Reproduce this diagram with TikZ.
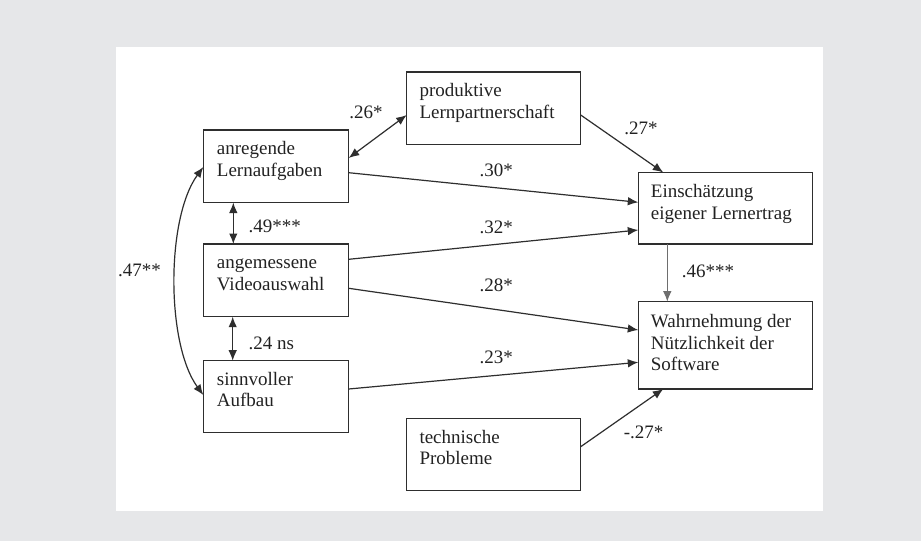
\documentclass[tikz,border=0pt]{standalone}
\usepackage{fontspec}
\setmainfont{Liberation Serif}
\usetikzlibrary{arrows.meta,calc}
\definecolor{bggray}{HTML}{E6E7E9}
\definecolor{ink}{HTML}{222222}
\definecolor{linegray}{HTML}{2E2E2E}
\definecolor{lightline}{HTML}{6E6E6E}
\begin{document}
\begin{tikzpicture}[x=1pt,y=-1pt,
  box/.style={draw=linegray, line width=1.2pt, fill=white, inner sep=0pt, outer sep=0pt, anchor=north west},
  boxtext/.style={anchor=north west, inner sep=0pt, align=left, text=ink, font=\fontsize{19}{21.7}\selectfont},
  lbl/.style={inner sep=0pt, text=ink, font=\fontsize{19}{21.7}\selectfont},
  conn/.style={draw=linegray, line width=1.2pt, -{Latex[length=10.5pt,width=8.5pt]}},
  biconn/.style={draw=linegray, line width=1.2pt, {Latex[length=10.5pt,width=8.5pt]}-{Latex[length=10.5pt,width=8.5pt]}}
]
\useasboundingbox (0,0) rectangle (921,541);
\fill[bggray] (0,0) rectangle (921,541);
\fill[white] (116,47) rectangle (823,511);

% boxes
\node[box, minimum width=174pt, minimum height=72.3pt] (prod) at (406.7,72) {};
\node[box, minimum width=145.4pt, minimum height=72.5pt] (anr) at (203.3,130) {};
\node[box, minimum width=145.4pt, minimum height=72.7pt] (ang) at (203.3,244) {};
\node[box, minimum width=145.4pt, minimum height=72pt] (sinn) at (203.3,360.7) {};
\node[box, minimum width=174.2pt, minimum height=71.5pt] (ein) at (638.3,172.5) {};
\node[box, minimum width=174.2pt, minimum height=87.3pt] (wahr) at (638.3,301.7) {};
\node[box, minimum width=174pt, minimum height=72.2pt] (tech) at (406.7,418.5) {};

% box texts
\node[boxtext] (prodt) at ($(prod.north west)+(12.6,9.2)$) {\strut produktive\\Lernpartnerschaft};
\node[boxtext] (anrt) at ($(anr.north west)+(13.4,9.2)$) {\strut anregende\\Lernaufgaben};
\node[boxtext] (angt) at ($(ang.north west)+(13.4,9.2)$) {\strut angemessene\\Videoauswahl};
\node[boxtext] (sinnt) at ($(sinn.north west)+(13.4,9.2)$) {\strut sinnvoller\\Aufbau};
\node[boxtext] (eint) at ($(ein.north west)+(12.4,9.8)$) {\strut Einschätzung\\eigener Lernertrag};
\node[boxtext] (wahrt) at ($(wahr.north west)+(12.4,10.4)$) {\strut Wahrnehmung der\\Nützlichkeit der\\Software};
\node[boxtext] (techt) at ($(tech.north west)+(12.6,9.2)$) {\strut technische\\Probleme};

% connectors
\draw[biconn] ($(anr.north east)+(0,28)$) -- ($(prod.north west)+(0,43)$);
\draw[conn] ($(prod.north east)+(0,43)$) -- ($(ein.north west)+(25,0)$);
\draw[conn] ($(anr.north east)+(0,42.7)$) -- ($(ein.north west)+(0,29.8)$);
\draw[conn] ($(ang.north east)+(0,15.3)$) -- ($(ein.north west)+(0,57.5)$);
\draw[conn] ($(ang.north east)+(0,44.3)$) -- ($(wahr.north west)+(0,28.3)$);
\draw[conn] ($(sinn.north east)+(0,28.3)$) -- ($(wahr.north west)+(0,60.6)$);
\draw[conn, draw=lightline] ($(ein.south west)+(29,0)$) -- ($(wahr.north west)+(29,0)$);
\draw[conn] ($(tech.north east)+(0,28.2)$) -- ($(wahr.south west)+(25,0)$);
\draw[biconn] ($(anr.south west)+(30,0)$) -- ($(ang.north west)+(30,0)$);
\draw[biconn] ($(ang.south west)+(29.4,0)$) -- ($(sinn.north west)+(29.4,0)$);
\draw[biconn] ($(anr.north west)+(0,37)$) .. controls (166,218) and (166,344) .. ($(sinn.north west)+(0,34.3)$);

% labels
\node[lbl] (l26) at (366,112) {.26*};
\node[lbl] (l27) at (641,128.3) {.27*};
\node[lbl] (l30) at (496.3,170.7) {.30*};
\node[lbl] (l32) at (496.3,227.3) {.32*};
\node[lbl] (l28) at (496.3,285.8) {.28*};
\node[lbl] (l23) at (496.3,357.3) {.23*};
\node[lbl, anchor=west] (l49) at (248.3,226.7) {.49***};
\node[lbl, anchor=west] (l24) at (248.3,343.7) {.24 ns};
\node[lbl, anchor=west] (l46) at (681.7,271.7) {.46***};
\node[lbl] (lm27) at (643.7,432.3) {-.27*};
\node[lbl, anchor=west] (l47) at (118,270) {.47**};
\end{tikzpicture}
\end{document}
